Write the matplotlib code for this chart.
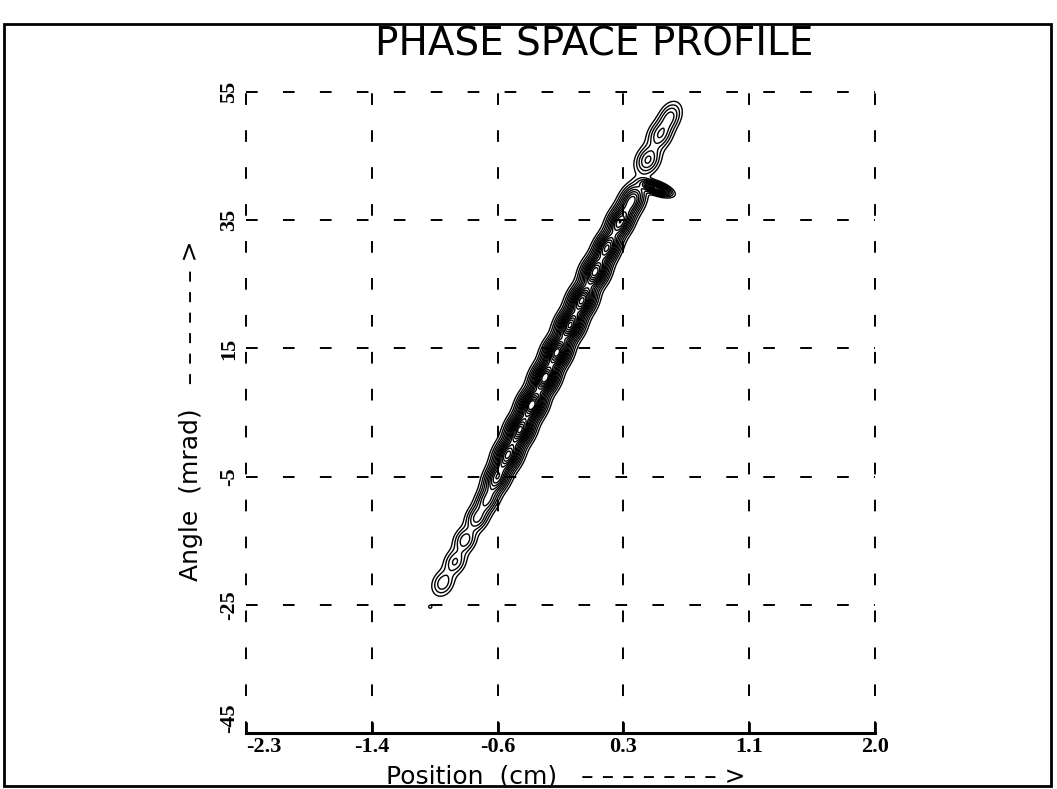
import numpy as np
import matplotlib
matplotlib.use("Agg")
import matplotlib.pyplot as plt
from matplotlib.patches import Rectangle

# axis ranges and tick labels (as printed on the chart)
x_range = (-2.3, 2.0)
y_range = (-45, 55)
x_tick_labels = ["-2.3", "-1.4", "-0.6", "0.3", "1.1", "2.0"]
y_tick_labels = ["-45", "-25", "-5", "15", "35", "55"]

# beam intensity: bead centres along the beam
beam_x = [-1.04, -0.953, -0.871, -0.803, -0.721, -0.653, -0.584, -0.509, -0.427,
          -0.345, -0.256, -0.174, -0.085, -0.003, 0.086, 0.168, 0.257, 0.339,
          0.448, 0.530, 0.598, 0.505]
beam_y = [-25.3, -21.6, -18.3, -14.9, -11.5, -8.7, -5.2, -1.6, 2.3,
          6.2, 10.4, 14.4, 18.6, 22.5, 26.9, 30.7, 34.7, 38.1,
          44.4, 48.3, 51.1, 40.0]
beam_peak = [0.055, 0.18, 0.20, 0.24, 0.28, 0.34, 0.58, 0.82, 0.95,
             1.00, 1.00, 0.98, 0.95, 0.90, 0.85, 0.75, 0.65, 0.50,
             0.28, 0.26, 0.22, 0.95]
# bead size in screen pixels (along / across the beam) and orientation in degrees
beam_len = [2, 8, 8, 8, 8, 9, 10, 10, 10, 10, 10, 10, 10, 10, 10, 10, 10, 10,
            9, 9, 9, 8]
beam_wid = [2, 6, 6, 6, 6, 6, 6.5, 7, 7, 7, 7, 7, 7, 7, 7, 6.5, 6.5, 6.5,
            6.5, 6.5, 6, 3]
beam_ang = [63, 63, 63, 63, 63, 63, 63, 63, 63, 63, 63, 63, 63, 63, 63, 63,
            63, 63, 63, 63, 63, -20]

contour_levels = [0.04, 0.08, 0.13, 0.19, 0.26, 0.33, 0.40, 0.47, 0.54,
                  0.61, 0.68, 0.75, 0.82, 0.89, 0.95]

fig = plt.figure(figsize=(10.57, 7.89), dpi=100)
ax = fig.add_axes([0.2327, 0.071, 0.595, 0.8124])

# intensity grid (built in screen-pixel units so bead sizes match the picture)
W, H = 629.0, 641.0
xs = np.linspace(x_range[0], x_range[1], 600)
ys = np.linspace(y_range[0], y_range[1], 600)
X, Y = np.meshgrid(xs, ys)
U = (X - x_range[0]) / (x_range[1] - x_range[0]) * W
V = (Y - y_range[0]) / (y_range[1] - y_range[0]) * H
Z = np.zeros_like(X)
for bx, by, pk, sl, sw, a in zip(beam_x, beam_y, beam_peak, beam_len, beam_wid, beam_ang):
    bu = (bx - x_range[0]) / (x_range[1] - x_range[0]) * W
    bv = (by - y_range[0]) / (y_range[1] - y_range[0]) * H
    t = np.deg2rad(a)
    du, dv = U - bu, V - bv
    along = du * np.cos(t) + dv * np.sin(t)
    across = -du * np.sin(t) + dv * np.cos(t)
    Z += pk * np.exp(-0.5 * ((along / sl) ** 2 + (across / sw) ** 2))

ax.contour(X, Y, Z, levels=contour_levels, colors="black", linewidths=1.0)

ax.set_xlim(*x_range)
ax.set_ylim(*y_range)
xt = np.linspace(x_range[0], x_range[1], len(x_tick_labels))
yt = np.linspace(y_range[0], y_range[1], len(y_tick_labels))

# dashed grid, including the left/right/top edges
dash = (0, (6, 13))
for x in xt:
    ax.axvline(x, color="black", lw=1.4, ls=dash, clip_on=False, zorder=1)
for y in yt[1:]:
    ax.axhline(y, color="black", lw=1.4, ls=dash, clip_on=False, zorder=1)

for s in ["left", "right", "top"]:
    ax.spines[s].set_visible(False)
ax.spines["bottom"].set_linewidth(2.2)

ax.set_xticks(xt)
ax.set_xticklabels(x_tick_labels)
ax.set_yticks(yt)
ax.set_yticklabels(y_tick_labels, rotation=90, va="center")
ax.tick_params(axis="x", direction="in", length=8, width=2, pad=3)
ax.tick_params(axis="y", length=0, pad=5)
for lab in ax.get_xticklabels() + ax.get_yticklabels():
    lab.set_fontfamily("Liberation Serif")
    lab.set_fontweight("bold")
    lab.set_fontsize(16)
ax.get_xticklabels()[0].set_horizontalalignment("left")
ax.get_yticklabels()[0].set_verticalalignment("bottom")

sans = ["DejaVu Sans"]
fig.text(0.562, 0.93, "PHASE SPACE PROFILE", ha="center", va="baseline",
         fontsize=28, family=sans)
fig.text(0.535, 0.016, "Position  (cm)   – – – – – – – >", ha="center", va="center",
         fontsize=18, family=sans)
fig.text(0.181, 0.48, "Angle  (mrad)   – – – – – – >", ha="center", va="center",
         rotation=90, fontsize=18, family=sans)

# scanned page frame
fig.patches.append(Rectangle((0.004, 0.004), 0.99, 0.966, transform=fig.transFigure,
                             fill=False, lw=2, edgecolor="black"))

fig.savefig("out.png", dpi=100)
